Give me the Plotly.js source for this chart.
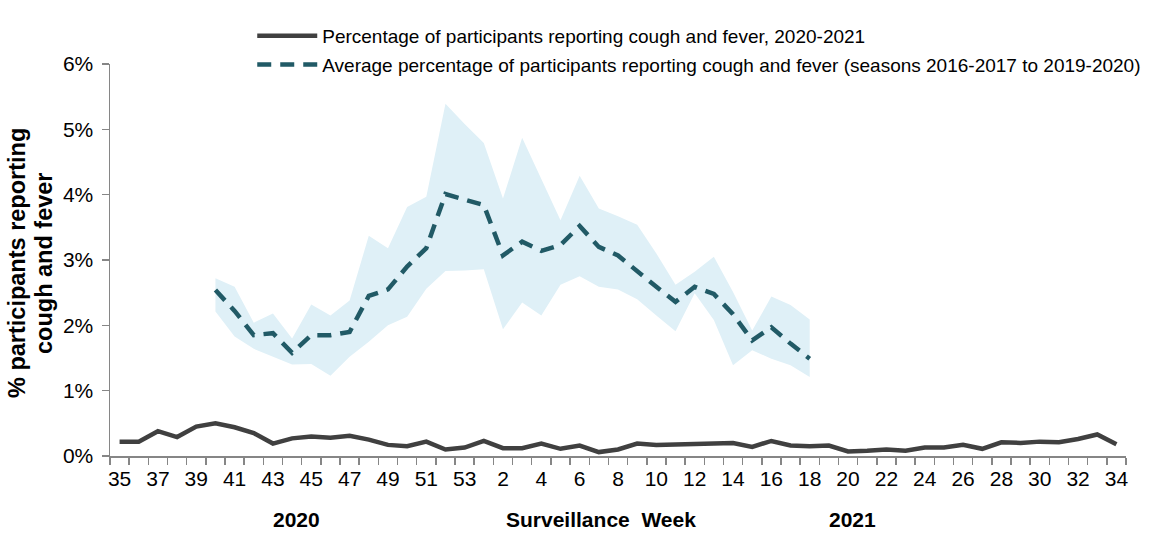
<!DOCTYPE html>
<html>
<head>
<meta charset="utf-8">
<script src="https://cdn.plot.ly/plotly-3.0.1.min.js"></script>
<style>html,body{margin:0;padding:0;background:#fff;}#chart{width:1155px;height:534px;}</style>
</head>
<body>
<div id="chart"></div>
<script>
// Surveillance weeks (2020 week 35 to 2021 week 34)
const weeks = [35,36,37,38,39,40,41,42,43,44,45,46,47,48,49,50,51,52,53,
  1,2,3,4,5,6,7,8,9,10,11,12,13,14,15,16,17,18,19,20,21,22,23,24,25,26,27,28,29,30,31,32,33,34];

// % participants reporting cough and fever, 2020-2021
const current = [0.22,0.22,0.38,0.29,0.45,0.50,0.44,0.35,0.19,0.27,0.30,0.28,0.31,0.25,0.17,0.15,0.22,0.10,0.13,
  0.23,0.12,0.12,0.19,0.11,0.16,0.06,0.10,0.19,0.17,0.18,0.18,0.19,0.20,0.14,0.23,0.16,0.15,0.16,
  0.07,0.08,0.10,0.08,0.13,0.13,0.17,0.11,0.21,0.20,0.22,0.21,0.26,0.33,0.18];

// Average % (seasons 2016-2017 to 2019-2020), weeks 40 to 18, with range band
const avgWeeks = [40,41,42,43,44,45,46,47,48,49,50,51,52,53,1,2,3,4,5,6,7,8,9,10,11,12,13,14,15,16,17,18];
const average = [2.54,2.22,1.85,1.88,1.58,1.85,1.85,1.90,2.45,2.55,2.90,3.18,4.01,3.92,3.84,3.07,3.28,3.14,3.23,3.52,
  3.20,3.07,2.82,2.59,2.36,2.59,2.48,2.17,1.77,1.97,1.72,1.49];
const upper = [2.72,2.59,2.04,2.18,1.80,2.32,2.15,2.38,3.37,3.18,3.81,3.97,5.39,5.08,4.79,3.94,4.87,4.25,3.61,4.29,
  3.79,3.67,3.54,3.10,2.62,2.82,3.05,2.51,1.92,2.44,2.31,2.09];
const lower = [2.21,1.83,1.64,1.52,1.40,1.41,1.23,1.52,1.75,2.00,2.13,2.56,2.83,2.84,2.86,1.94,2.35,2.15,2.62,2.75,
  2.59,2.55,2.40,2.15,1.91,2.49,2.08,1.39,1.62,1.49,1.39,1.21];

const yTicks = [0,1,2,3,4,5,6];

// category positions
const idx = weeks.map((w,i)=>i);
const avgIdx = avgWeeks.map((w,k)=> (k < 14 ? weeks.indexOf(w) : weeks.indexOf(w, 19)));
const labelIdx = idx.filter(i => i % 2 === 0);
const labelText = labelIdx.map(i => String(weeks[i]));

const font = "Liberation Sans, Arial, sans-serif";

const traces = [
  {x: avgIdx, y: lower, type:'scatter', mode:'lines', line:{width:0, color:'rgba(0,0,0,0)'},
   showlegend:false, hoverinfo:'skip'},
  {x: avgIdx, y: upper, type:'scatter', mode:'lines', line:{width:0, color:'rgba(0,0,0,0)'},
   fill:'tonexty', fillcolor:'#DFF0F7', showlegend:false, hoverinfo:'skip'},
  {x: idx, y: current, type:'scatter', mode:'lines', name:'Percentage of participants reporting cough and fever, 2020-2021',
   line:{color:'#404040', width:4.5}, legendgroup:'a'},
  {x: avgIdx, y: average, type:'scatter', mode:'lines', name:'Average percentage of participants reporting cough and fever (seasons 2016-2017 to 2019-2020)',
   line:{color:'#215A66', width:4.5, dash:'14px,9px'}, legendgroup:'b'}
];

const layout = {
  width:1155, height:534,
  margin:{l:110, r:29, t:64, b:78, autoexpand:false},
  paper_bgcolor:'#fff', plot_bgcolor:'#fff',
  font:{family:font, color:'#000'},
  showlegend:true,
  legend:{x:0.14, y:1.12, xanchor:'left', yanchor:'top', orientation:'v', font:{size:19, family:font, color:'#000'},
    bgcolor:'rgba(0,0,0,0)', tracegroupgap:1, itemwidth:60},
  xaxis:{
    range:[-0.5, 52.5], tickmode:'array', tickvals:labelIdx, ticktext:labelText,
    ticks:'', ticklabelstandoff:3, tickfont:{size:21, family:font, color:'#000'},
    showline:true, linecolor:'#868686', linewidth:1.5, showgrid:false, zeroline:false,
    minor:{tick0:0.5, dtick:1, ticks:'outside', ticklen:7, tickwidth:1.5, tickcolor:'#868686', showgrid:false}
  },
  yaxis:{
    range:[0,6], tickmode:'array', tickvals:yTicks, ticktext:yTicks.map(v=>v+'%'),
    ticks:'outside', ticklen:7, tickwidth:1.5, tickcolor:'#868686', ticklabelstandoff:4,
    tickfont:{size:21, family:font, color:'#000'},
    showline:true, linecolor:'#868686', linewidth:1.5, showgrid:false, zeroline:false
  },
  annotations:[
    {xref:'paper', yref:'paper', x:(17-110)/1016, y:(456-263)/392, xanchor:'center', yanchor:'middle', textangle:-90,
     text:'<b>% participants reporting</b>', showarrow:false, font:{size:23.5, family:font, color:'#000'}},
    {xref:'paper', yref:'paper', x:(44-110)/1016, y:(456-263)/392, xanchor:'center', yanchor:'middle', textangle:-90,
     text:'<b>cough and fever</b>', showarrow:false, font:{size:23.5, family:font, color:'#000'}},
    {xref:'paper', yref:'paper', x:0.184, y:-0.161, xanchor:'center', yanchor:'middle', text:'<b>2020</b>', showarrow:false, font:{size:21, family:font, color:'#000'}},
    {xref:'paper', yref:'paper', x:0.483, y:-0.161, xanchor:'center', yanchor:'middle', text:'<b>Surveillance  Week</b>', showarrow:false, font:{size:21, family:font, color:'#000'}},
    {xref:'paper', yref:'paper', x:0.731, y:-0.161, xanchor:'center', yanchor:'middle', text:'<b>2021</b>', showarrow:false, font:{size:21, family:font, color:'#000'}}
  ]
};

Plotly.newPlot('chart', traces, layout, {displayModeBar:false, staticPlot:true});
</script>
</body>
</html>
